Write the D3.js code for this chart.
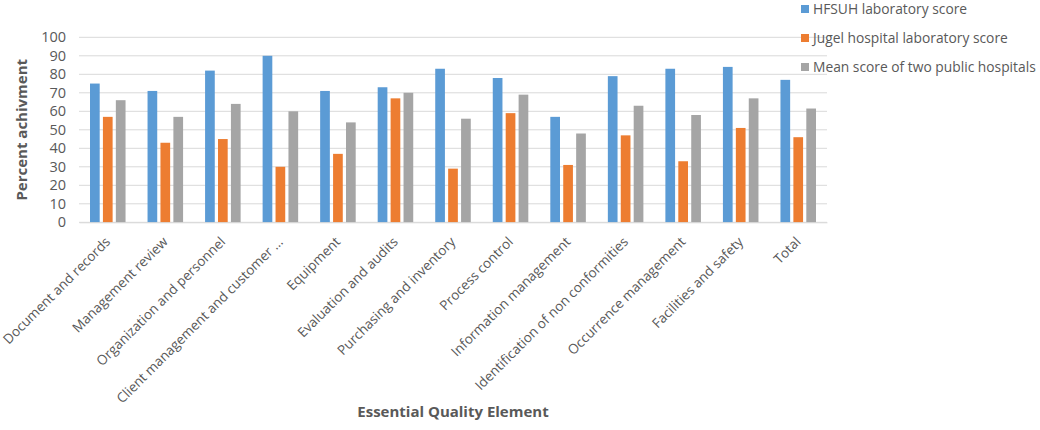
<!DOCTYPE html>
<html>
<head>
<meta charset="utf-8">
<script src="https://cdn.jsdelivr.net/npm/d3@7"></script>
<style>
  body { margin: 0; background: #fff; }
  text { font-family: "Open Sans", sans-serif; }
</style>
</head>
<body>
<div id="chart"></div>
<script>
const categories = [
    "Document and records", "Management review", "Organization and personnel",
    "Client management and customer ...", "Equipment", "Evaluation and audits",
    "Purchasing and inventory", "Process control", "Information management",
    "Identification of non conformities", "Occurrence management",
    "Facilities and safety", "Total"
];
const seriesNames = [
    "HFSUH laboratory score",
    "Jugel hospital laboratory score",
    "Mean score of two public hospitals"
];
const hfsuh = [75, 71, 82, 90, 71, 73, 83, 78, 57, 79, 83, 84, 77];
const jugel = [57, 43, 45, 30, 37, 67, 29, 59, 31, 47, 33, 51, 46];
const meanScore = [66, 57, 64, 60, 54, 70, 56, 69, 48, 63, 58, 67, 61.5];
const yTicks = [0, 10, 20, 30, 40, 50, 60, 70, 80, 90, 100];
const colors = ["#5b9bd5", "#ed7d31", "#a5a5a5"];

const W = 1040, H = 430;
const plot = { left: 79, right: 827, top: 37.3, bottom: 222.3 };

const svg = d3.select("#chart").append("svg")
    .attr("width", W).attr("height", H);

const x = d3.scaleBand()
    .domain(categories)
    .range([plot.left, plot.right]);

const x1 = d3.scaleBand()
    .domain(seriesNames)
    .range([11, x.bandwidth() - 11])
    .paddingInner(0.25);

const y = d3.scaleLinear()
    .domain([0, 100])
    .range([plot.bottom, plot.top]);

// gridlines
svg.append("g")
    .selectAll("line")
    .data(yTicks)
    .join("line")
    .attr("x1", plot.left).attr("x2", plot.right)
    .attr("y1", d => y(d)).attr("y2", d => y(d))
    .attr("stroke", "#d9d9d9").attr("stroke-width", 1);

// y tick labels
const yAxis = svg.append("g")
    .attr("transform", `translate(${plot.left - 13},0)`)
    .call(d3.axisLeft(y).tickValues(yTicks).tickSize(0).tickPadding(0));
yAxis.select(".domain").remove();
yAxis.selectAll("text")
    .style("font-size", "14.5px")
    .attr("fill", "#595959");

// bars
const rows = categories.map((c, i) => ({
    cat: c,
    vals: [hfsuh[i], jugel[i], meanScore[i]]
}));

const groups = svg.append("g")
    .selectAll("g")
    .data(rows)
    .join("g")
    .attr("transform", d => `translate(${x(d.cat)},0)`);

groups.selectAll("rect")
    .data(d => d.vals.map((v, j) => ({ name: seriesNames[j], v, j })))
    .join("rect")
    .attr("x", d => x1(d.name))
    .attr("width", x1.bandwidth())
    .attr("y", d => y(d.v))
    .attr("height", d => y(0) - y(d.v))
    .attr("fill", d => colors[d.j]);

// x axis
const xAxis = svg.append("g")
    .attr("transform", `translate(0,${plot.bottom})`)
    .call(d3.axisBottom(x).tickSize(0).tickPadding(0));
xAxis.select(".domain").attr("stroke", "#d9d9d9");
xAxis.selectAll("text")
    .style("font-size", "13.5px")
    .attr("fill", "#595959")
    .attr("text-anchor", "end")
    .attr("dy", "0.35em")
    .attr("transform", "translate(0,17) rotate(-45)");

// axis titles
svg.append("text")
    .attr("x", (plot.left + plot.right) / 2)
    .attr("y", 417)
    .attr("text-anchor", "middle")
    .style("font-size", "15px")
    .style("font-weight", "bold")
    .attr("fill", "#595959")
    .text("Essential Quality Element");

svg.append("text")
    .attr("transform", `translate(27,${(plot.top + plot.bottom) / 2}) rotate(-90)`)
    .attr("text-anchor", "middle")
    .style("font-size", "15px")
    .style("font-weight", "bold")
    .attr("fill", "#595959")
    .text("Percent achivment");

// legend
const legend = svg.append("g")
    .attr("transform", "translate(801,0)")
    .selectAll("g")
    .data(seriesNames)
    .join("g")
    .attr("transform", (d, i) => `translate(0,${9 + i * 29})`);

legend.append("rect")
    .attr("x", 0).attr("y", -4)
    .attr("width", 8).attr("height", 8)
    .attr("fill", (d, i) => colors[i]);

legend.append("text")
    .attr("x", 12).attr("dy", "0.35em")
    .style("font-size", "13.8px")
    .attr("fill", "#595959")
    .text(d => d);
</script>
</body>
</html>
